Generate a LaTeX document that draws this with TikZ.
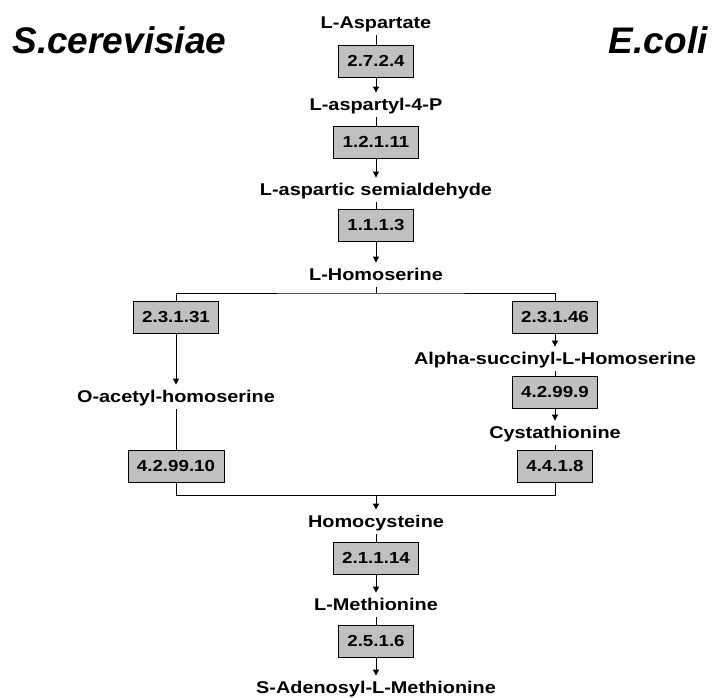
\documentclass[tikz,border=0pt]{standalone}
\usepackage{fontspec}
\newfontfamily\lblfont[FakeStretch=1.17]{Liberation Sans}
\newfontfamily\ttlfont{Liberation Sans}
\usetikzlibrary{arrows.meta}
\definecolor{boxgray}{RGB}{192,192,192}

\begin{document}
\begin{tikzpicture}[x=1pt, y=-1pt, line width=0.8pt,
  >={Triangle[length=6pt,width=6pt]},
  chem/.style={anchor=base, inner xsep=2pt, inner ysep=4.5pt, text height=12.5pt, text depth=2pt,
    font=\lblfont\bfseries\fontsize{17}{20}\selectfont},
  enz/.style={draw, fill=boxgray, minimum height=32pt, inner xsep=9pt, inner ysep=0pt,
    font=\lblfont\bfseries\fontsize{16}{19}\selectfont},
  ttl/.style={inner sep=0pt, font=\ttlfont\bfseries\itshape\fontsize{37}{40}\selectfont}]
\useasboundingbox (0,0) rectangle (717,697);

\node[ttl, anchor=base west] (sc) at (12,53) {S.cerevisiae};
\node[ttl, anchor=base east] (ec) at (708,53) {E.coli};

\node[chem] (asp)   at (376,28)  {L-Aspartate};
\node[enz]  (e1)    at (376,61)  {2.7.2.4};
\node[chem] (aspP)  at (376,110) {L-aspartyl-4-P};
\node[enz]  (e2)    at (376,142) {1.2.1.11};
\node[chem] (semi)  at (376,195) {L-aspartic semialdehyde};
\node[enz]  (e3)    at (376,225) {1.1.1.3};
\node[chem] (hser)  at (376,280) {L-Homoserine};
\coordinate (split) at (376,293);

\node[enz]  (eL1)   at (176,317) {2.3.1.31};
\node[chem] (acet)  at (176,402) {O-acetyl-homoserine};
\node[enz]  (eL2)   at (176,466) {4.2.99.10};

\node[enz]  (eR1)   at (555,317) {2.3.1.46};
\node[chem] (succ)  at (555,364) {Alpha-succinyl-L-Homoserine};
\node[enz]  (eR2)   at (555,392) {4.2.99.9};
\node[chem] (cysta) at (555,438) {Cystathionine};
\node[enz]  (eR3)   at (555,466) {4.4.1.8};

\coordinate (join) at (376,495);
\node[chem] (hcys)  at (376,527) {Homocysteine};
\node[enz]  (e4)    at (376,558) {2.1.1.14};
\node[chem] (met)   at (376,610) {L-Methionine};
\node[enz]  (e5)    at (376,641) {2.5.1.6};
\node[chem] (sam)   at (376,693) {S-Adenosyl-L-Methionine};

\foreach \a/\b in {asp/e1, aspP/e2, semi/e3, acet/eL2, succ/eR2, cysta/eR3, hcys/e4, met/e5}
  \draw (\a) -- (\b);
\foreach \a/\b in {e1/aspP, e2/semi, e3/hser, eL1/acet, eR1/succ, eR2/cysta, e4/met, e5/sam}
  \draw[->] (\a) -- (\b);

\draw (hser) -- (split);
\draw (eL1) |- (split) -| (eR1);
\draw (eL2) |- (join) -| (eR3);
\draw[->] (join) -- (hcys);
\end{tikzpicture}
\end{document}
